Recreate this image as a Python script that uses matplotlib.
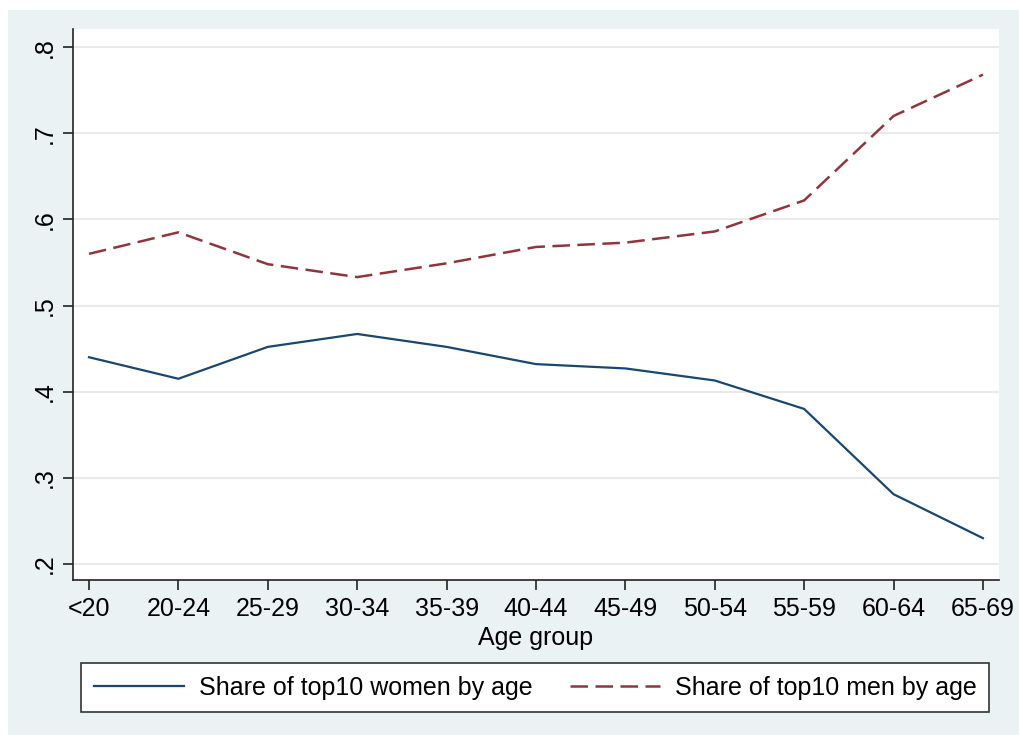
import matplotlib
matplotlib.use("Agg")
from matplotlib import pyplot as plt
from matplotlib.patches import Rectangle

# data
age_groups = ["<20", "20-24", "25-29", "30-34", "35-39", "40-44",
              "45-49", "50-54", "55-59", "60-64", "65-69"]
women_share = [0.440, 0.415, 0.452, 0.467, 0.452, 0.432,
               0.427, 0.413, 0.380, 0.281, 0.230]
men_share = [0.560, 0.585, 0.548, 0.533, 0.549, 0.568,
             0.573, 0.586, 0.622, 0.720, 0.768]
y_ticks = [0.2, 0.3, 0.4, 0.5, 0.6, 0.7, 0.8]
y_tick_labels = [".2", ".3", ".4", ".5", ".6", ".7", ".8"]

plt.rcParams["font.family"] = ["Liberation Sans", "DejaVu Sans"]
FS = 18

fig = plt.figure(figsize=(10.2, 7.36), dpi=100, facecolor="white")
# stata-like outer panel
fig.patches.append(Rectangle((8 / 1020, 1 / 736), 1012 / 1020, 725 / 736,
                             transform=fig.transFigure, facecolor="#EAF2F3",
                             edgecolor="none", zorder=-10))

ax = fig.add_axes([73 / 1020, 156 / 736, 926 / 1020, 551 / 736])
ax.set_facecolor("white")

x = list(range(len(age_groups)))
ax.plot(x, women_share, color="#1a476f", lw=1.6, label="Share of top10 women by age")
ax.plot(x, men_share, color="#90353b", lw=1.8, dashes=(7, 3),
        label="Share of top10 men by age")

ax.set_xlim(-0.179, 10.18)
ax.set_ylim(0.1814, 0.821)
ax.set_xticks(x)
ax.set_xticklabels(age_groups, fontsize=FS)
ax.set_yticks(y_ticks)
ax.set_yticklabels(y_tick_labels, fontsize=FS, rotation=90, va="center")
ax.tick_params(axis="both", length=7, width=1.2, color="#222222", pad=5)
ax.set_xlabel("Age group", fontsize=FS, labelpad=4)

ax.grid(axis="y", color="#EAEAEA", lw=1.5)
ax.set_axisbelow(True)
for side in ["top", "right"]:
    ax.spines[side].set_visible(False)
for side in ["left", "bottom"]:
    ax.spines[side].set_color("#222222")
    ax.spines[side].set_linewidth(1.2)

leg = fig.legend(loc="center", bbox_to_anchor=(535 / 1020, 48.5 / 736),
                 ncol=2, fontsize=FS, frameon=True, fancybox=False,
                 facecolor="white", framealpha=1, edgecolor="#333333",
                 handlelength=3.6, handletextpad=0.6, columnspacing=1.5,
                 borderpad=0.5, borderaxespad=0)
leg.get_frame().set_linewidth(1.2)

fig.savefig("out.png", dpi=100, facecolor="white")
